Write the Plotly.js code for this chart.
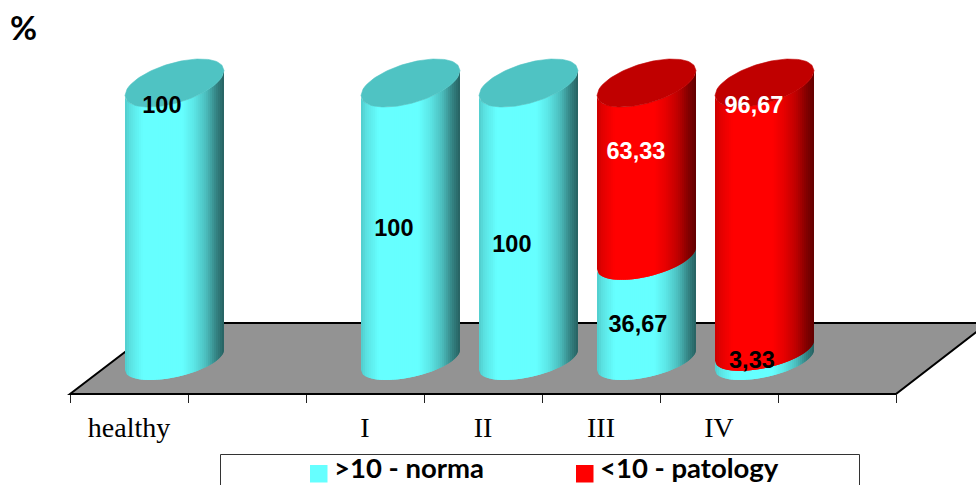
<!DOCTYPE html>
<html>
<head>
<meta charset="utf-8">
<script src="https://cdn.plot.ly/plotly-3.0.1.min.js"></script>
<style>html,body{margin:0;padding:0;background:#fff;overflow:hidden}#chart{width:976px;height:485px}</style>
</head>
<body>
<div id="chart"></div>
<script>
// Share of patients by group (%), stacked cylinders on a tilted floor.
const categories = ['healthy', '', 'I', 'II', 'III', 'IV', ''];
const categoryIndex = [0, 2, 3, 4, 5];
const normaValues = [100, 100, 100, 36.67, 3.33];
const patologyValues = [0, 0, 0, 63.33, 96.67];
const seriesNames = ['>10 - norma', '<10 - patology'];

// Where each value label sits, in axis units.
const normaLabelX = [0.279, 2.245, 3.245, 4.313, 5.279];
const normaLabelY = [91.2, 46.8, 41.0, 12.1, -0.8];
const patologyLabelX = [null, null, null, 4.296, 5.296];
const patologyLabelY = [null, null, null, 74.6, 91.2];

const W = 976, H = 485;
const plot = {l: 70, r: 80, t: 0, b: 92};
const plotW = W - plot.l - plot.r, plotH = H - plot.t - plot.b;

// Cylinder proportions, in axis units.
const halfWidth = 0.4195, depthShift = 0.3856;
const tilt = v => 3.6 + 0.009 * v;
const rise = v => 6.25 + 0.0115 * v;
const lower = (v, c) => v + tilt(v) * c - rise(v) * Math.sqrt(Math.max(0, 1 - c * c));
const upper = (v, c) => v + tilt(v) * c + rise(v) * Math.sqrt(Math.max(0, 1 - c * c));

// Brightness across the width of a cylinder, left to right.
const shadeStops = [[0, .8], [.05, .88], [.18, 1], [.58, 1], [.7, .9], [.82, .74], [.92, .52], [1, .38]];
function shade(u) {
  for (let i = 1; i < shadeStops.length; i++) {
    if (u <= shadeStops[i][0]) {
      const [a, p] = shadeStops[i - 1], [b, q] = shadeStops[i];
      return p + (q - p) * (u - a) / (b - a);
    }
  }
  return shadeStops[shadeStops.length - 1][1];
}
const tint = (rgb, k) => 'rgb(' + rgb.map(x => Math.round(x * k)).join(',') + ')';

const bands = 50;
const traces = [];

// One trace per shade; each holds the matching slice of every cylinder in the series.
// Each slice runs under the next one so no seams open up between them.
function addBody(rgb, starts, ends) {
  for (let b = 0; b < bands; b++) {
    const c0 = -1 + 2 * b / bands, c1 = Math.min(1, -1 + 2 * (b + 2) / bands);
    const xs = [], ys = [];
    categoryIndex.forEach((idx, i) => {
      if (ends[i] <= starts[i]) return;
      const cx = idx + depthShift;
      const steps = 8, row = [];
      for (let s = 0; s <= steps; s++) row.push(c0 + (c1 - c0) * s / steps);
      row.forEach(c => { xs.push(cx + c * halfWidth); ys.push(lower(starts[i], c)); });
      row.slice().reverse().forEach(c => { xs.push(cx + c * halfWidth); ys.push(lower(ends[i], c)); });
      xs.push(cx + c0 * halfWidth); ys.push(lower(starts[i], c0));
      xs.push(null); ys.push(null);
    });
    const col = tint(rgb, shade((b + .5) / bands));
    traces.push({x: xs, y: ys, mode: 'lines', fill: 'toself', fillcolor: col,
      line: {color: col, width: 0}, showlegend: false, hoverinfo: 'skip'});
  }
}

const cyan = [102, 255, 255], red = [255, 0, 0];
const normaEnd = normaValues.slice();
const patologyEnd = normaValues.map((v, i) => v + patologyValues[i]);
addBody(cyan, normaValues.map(() => 0), normaEnd);
addBody(red, normaEnd, patologyEnd);

// Top faces.
function addCaps(color, tops, which) {
  const xs = [], ys = [];
  categoryIndex.forEach((idx, i) => {
    if (!which(i)) return;
    const cx = idx + depthShift, n = 48;
    for (let s = 0; s <= n; s++) { const c = -1 + 2 * s / n; xs.push(cx + c * halfWidth); ys.push(lower(tops[i], c)); }
    for (let s = n; s >= 0; s--) { const c = -1 + 2 * s / n; xs.push(cx + c * halfWidth); ys.push(upper(tops[i], c)); }
    xs.push(null); ys.push(null);
  });
  traces.push({x: xs, y: ys, mode: 'lines', fill: 'toself', fillcolor: color,
    line: {color: color, width: 0.6}, showlegend: false, hoverinfo: 'skip'});
}
addCaps('#4fc3c3', patologyEnd, i => patologyValues[i] === 0);
addCaps('#c00000', patologyEnd, i => patologyValues[i] > 0);

// Value labels.
const labelFont = {family: 'Liberation Sans, Arial, sans-serif', size: 23.5, weight: 700};
const fmt = v => String(v).replace('.', ',');
traces.push({x: normaLabelX, y: normaLabelY, mode: 'text', text: normaValues.map(fmt),
  textposition: 'middle center', textfont: Object.assign({color: '#000'}, labelFont),
  cliponaxis: false, showlegend: false, hoverinfo: 'skip'});
traces.push({x: patologyLabelX, y: patologyLabelY, mode: 'text',
  text: patologyValues.map(v => v > 0 ? fmt(v) : ''),
  textposition: 'middle center', textfont: Object.assign({color: '#fff'}, labelFont),
  cliponaxis: false, showlegend: false, hoverinfo: 'skip'});

// Paper coordinates for decoration that runs past the plot area.
const px = x => (x - plot.l) / plotW;
const py = y => (plotH + plot.t - y) / plotH;
const floorPath = 'M ' + px(70) + ' ' + py(394) + ' L ' + px(163) + ' ' + py(323) +
  ' L ' + px(988) + ' ' + py(323) + ' L ' + px(896) + ' ' + py(394) + ' Z';

const swatch = (x0, color) => ({type: 'rect', xref: 'paper', yref: 'paper', layer: 'above',
  x0: px(x0), x1: px(x0 + 17.5), y0: py(482.5), y1: py(465), fillcolor: color, line: {width: 0}});
const keyText = (x, text) => ({text: text, xref: 'paper', yref: 'paper', x: px(x), y: py(467), xanchor: 'left', yanchor: 'middle',
  showarrow: false, font: {family: 'Lato, sans-serif', size: 27.5, color: '#000', weight: 700}});

const valuePerPx = 1 / 2.77;
const layout = {
  width: W, height: H, paper_bgcolor: '#fff', plot_bgcolor: 'rgba(0,0,0,0)',
  margin: Object.assign({autoexpand: false, pad: 0}, plot),
  showlegend: false,
  xaxis: {
    range: [-0.5, 6.5], fixedrange: true, zeroline: false, showgrid: false,
    showline: true, linecolor: '#000', linewidth: 2,
    tickmode: 'array', tickvals: categories.map((_, i) => i), ticktext: categories,
    ticks: '', ticklabelstandoff: 8,
    tickfont: {family: 'Liberation Serif, Times New Roman, serif', size: 28, color: '#000'},
    minor: {tickmode: 'array', tickvals: [-0.5, 0.5, 1.5, 2.5, 3.5, 4.5, 5.5, 6.5],
      ticks: 'outside', ticklen: 8, tickwidth: 1, tickcolor: '#222', showgrid: false}
  },
  yaxis: {range: [-33 * valuePerPx, 360 * valuePerPx], visible: false, fixedrange: true},
  shapes: [
    {type: 'path', xref: 'paper', yref: 'paper', layer: 'below', path: floorPath,
      fillcolor: '#939393', line: {color: '#000', width: 2}},
    {type: 'rect', xref: 'paper', yref: 'paper', layer: 'above',
      x0: px(220.5), x1: px(859.5), y0: py(500), y1: py(454.5),
      fillcolor: 'rgba(0,0,0,0)', line: {color: '#333', width: 1}},
    swatch(310, '#66ffff'),
    swatch(576, '#ff0000')
  ],
  annotations: [
    {text: '%', xref: 'paper', yref: 'paper', x: px(23.5), y: py(27), xanchor: 'center', yanchor: 'middle',
      showarrow: false, font: {family: 'Lato, sans-serif', size: 33, color: '#000', weight: 700}},
    keyText(332, seriesNames[0]),
    keyText(598, seriesNames[1])
  ]
};
Plotly.newPlot('chart', traces, layout, {displayModeBar: false, staticPlot: true});
</script>
</body>
</html>
